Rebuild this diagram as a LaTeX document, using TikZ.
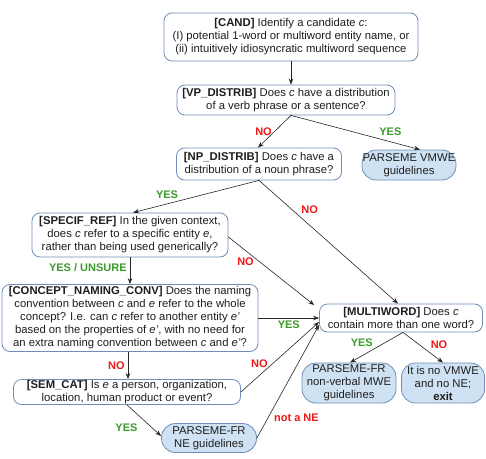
\documentclass[tikz,border=0pt]{standalone}
\usepackage{fontspec}
\setmainfont{Liberation Sans}
\usetikzlibrary{arrows.meta}
\definecolor{bordc}{HTML}{6F8DB8}
\definecolor{termfill}{HTML}{CFE2F3}
\definecolor{nored}{HTML}{F01818}
\definecolor{yesgreen}{HTML}{3A9A2A}
\definecolor{txt}{HTML}{1E1E1E}
\tikzset{
  qbox/.style={draw=bordc, line width=0.8pt, fill=white, rounded corners=8pt, align=center, inner sep=0pt, text=txt, font=\fontsize{11.3}{13}\selectfont},
  term/.style={draw=bordc, line width=0.8pt, fill=termfill, rounded corners=14pt, align=center, inner sep=0pt, text=txt, font=\fontsize{11.3}{13}\selectfont},
  conn/.style={draw=black!85, line width=0.6pt, -{Stealth[length=6pt,width=4.5pt]}},
  nolab/.style={text=nored, font=\fontsize{11}{13}\selectfont\bfseries, inner sep=0pt},
  yeslab/.style={text=yesgreen, font=\fontsize{11}{13}\selectfont\bfseries, inner sep=0pt}
}
\begin{document}
\begin{tikzpicture}[x=1pt,y=-1pt]
\useasboundingbox (0,0) rectangle (486,458);
\node[qbox, minimum width=254pt, minimum height=48pt] (cand) at (291,37) {\textbf{[CAND]} Identify a candidate \textit{c}:\\(I) potential 1-word or multiword entity name, or\\(ii) intuitively idiosyncratic multiword sequence};
\node[qbox, minimum width=218pt, minimum height=30pt] (vp) at (286,100) {\textbf{[VP\_DISTRIB]} Does \textit{c} have a distribution\\of a verb phrase or a sentence?};
\node[qbox, minimum width=165pt, minimum height=32pt] (np) at (259,164) {\textbf{[NP\_DISTRIB]} Does \textit{c} have a\\distribution of a noun phrase?};
\node[term, minimum width=94pt, minimum height=30pt] (vmwe) at (409,165) {PARSEME VMWE\\guidelines};
\node[qbox, minimum width=196pt, minimum height=44pt] (specif) at (130,235) {\textbf{[SPECIF\_REF]} In the given context,\\does \textit{c} refer to a specific entity \textit{e},\\rather than being used generically?};
\node[qbox, minimum width=256pt, minimum height=67pt] (concept) at (130,318) {\textbf{[CONCEPT\_NAMING\_CONV]} Does the naming\\convention between \textit{c} and \textit{e} refer to the whole\\concept? I.e. can \textit{c} refer to another entity \textit{e’}\\based on the properties of \textit{e’}, with no need for\\an extra naming convention between \textit{c} and \textit{e’}?};
\node[qbox, minimum width=227pt, minimum height=25pt] (semcat) at (127,392) {\textbf{[SEM\_CAT]} Is \textit{e} a person, organization,\\location, human product or event?};
\node[term, minimum width=95pt, minimum height=29pt] (ne) at (209,438) {PARSEME-FR\\NE guidelines};
\node[qbox, minimum width=163pt, minimum height=28pt] (multi) at (401,318) {\textbf{[MULTIWORD]} Does \textit{c}\\contain more than one word?};
\node[term, minimum width=94pt, minimum height=40pt] (nvmwe) at (349,383) {PARSEME-FR\\non-verbal MWE\\guidelines};
\node[term, minimum width=83pt, minimum height=40pt] (exit) at (443,383) {It is no VMWE\\and no NE;\\\textbf{exit}};

\draw[conn] (cand.south) -- (cand.south |- vp.north);
\draw[conn] ([xshift=5pt]vp.south) -- node[nolab, pos=0.5, xshift=-11pt] {NO} ([xshift=-1pt]np.north);
\draw[conn] ([xshift=5pt]vp.south) -- node[yeslab, pos=0.77, yshift=10pt] {YES} ([xshift=11pt]vmwe.north);
\draw[conn] (np.south) -- node[yeslab, pos=0.73, yshift=9pt] {YES} ([xshift=3pt]specif.north);
\draw[conn] (np.south) -- node[nolab, pos=0.3, xshift=9pt, yshift=8pt] {NO} ([xshift=-3pt]multi.north);
\draw[conn] ([yshift=-2pt]specif.east) -- node[nolab, pos=0.2, yshift=-11pt] {NO} ([xshift=-5pt,yshift=13pt]multi.west);
\draw[conn] (specif.south) -- node[yeslab, pos=0.4, anchor=east, xshift=-3pt] {YES / UNSURE} (specif.south |- concept.north);
\draw[conn] (concept.east) -- node[yeslab, pos=0.5, yshift=-7pt] {YES} (multi.west);
\draw[conn] ([xshift=-2pt]concept.south) -- node[nolab, pos=0.5, anchor=east, xshift=-3pt] {NO} ([xshift=-2pt]concept.south |- semcat.north);
\draw[conn] (semcat.east) -- node[nolab, pos=0.3, xshift=-5pt, yshift=7pt] {NO} ([yshift=-4pt]multi.west);
\draw[conn] (semcat.south) -- node[yeslab, pos=0.6, xshift=-21pt, yshift=-4pt] {YES} ([yshift=2pt]ne.west);
\draw[conn] (ne.east) -- node[nolab, pos=0.25, xshift=24pt, yshift=-8pt] {not a NE} ([yshift=-7pt]multi.west);
\draw[conn] ([xshift=2pt]multi.south) -- node[yeslab, pos=0.4, xshift=-20pt, yshift=2pt] {YES} ([xshift=1pt]nvmwe.north);
\draw[conn] ([xshift=2pt]multi.south) -- node[nolab, pos=0.4, xshift=20pt] {NO} (exit.north);
\end{tikzpicture}
\end{document}
